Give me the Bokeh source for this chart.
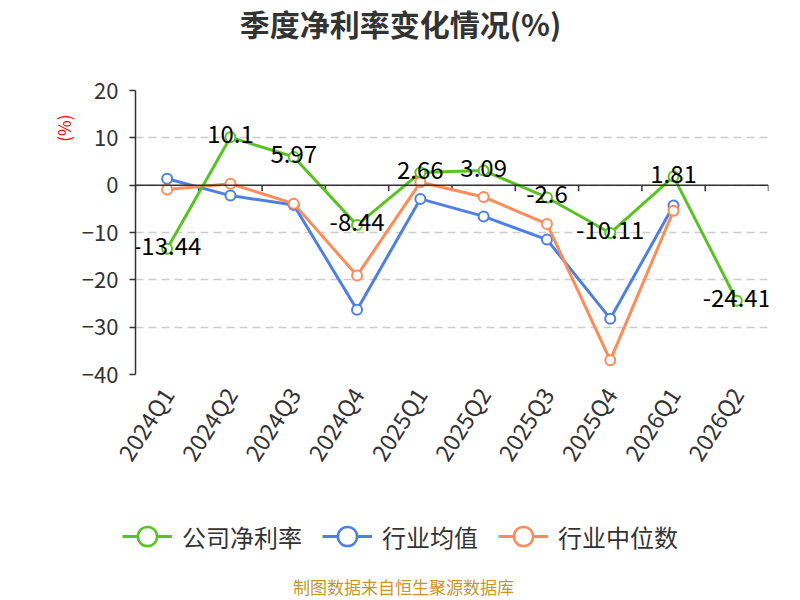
import math
from bokeh.plotting import figure
from bokeh.layouts import column
from bokeh.models import Span, Legend, LegendItem, FixedTicker, Title, Label
from bokeh.core.properties import value
from bokeh.embed import file_html
from bokeh.resources import INLINE

# ---- data ----
quarters = ["2024Q1", "2024Q2", "2024Q3", "2024Q4", "2025Q1",
            "2025Q2", "2025Q3", "2025Q4", "2026Q1", "2026Q2"]
company = [-13.44, 10.1, 5.97, -8.44, 2.66, 3.09, -2.6, -10.11, 1.81, -24.41]
ind_mean = [1.35, -2.2, -4.2, -26.3, -2.9, -6.6, -11.5, -28.2, -4.3, float("nan")]
ind_median = [-0.9, 0.3, -3.9, -19.1, 0.6, -2.5, -8.2, -37.0, -5.4, float("nan")]
y_ticks = [-40, -30, -20, -10, 0, 10, 20]
series_names = ["公司净利率", "行业均值", "行业中位数"]
title_text = "季度净利率变化情况(%)"
unit_text = "(%)"
footer_text = "制图数据来自恒生聚源数据库"

FONT = "Noto Sans CJK SC"
GREEN = "#58c322"
BLUE = "#4f80e1"
ORANGE = "#fc8c5a"
NAN = float("nan")

xs = list(range(len(quarters)))
bounds = [i - 0.5 for i in range(len(quarters) + 1)]


def strip(height):
    s = figure(width=800, height=height, x_range=(0, 1), y_range=(0, 1),
               output_backend="svg", toolbar_location=None, min_border=0)
    if "frame_align" in s.properties():
        s.frame_align = False
    s.outline_line_color = None
    s.axis.visible = False
    s.grid.visible = False
    return s


# ---- title strip ----
ptop = strip(45)
ptop.add_layout(Label(x=400, y=23, x_units="screen", y_units="screen", text=title_text,
                      text_align="center", text_baseline="middle", text_font_size="30px",
                      text_font_style="bold", text_color="#333333", text_font=FONT))

# ---- main chart ----
p = figure(width=800, height=465, x_range=(-0.5, len(quarters) - 0.5),
           y_range=(y_ticks[0], y_ticks[-1]), output_backend="svg",
           toolbar_location=None, title=None,
           min_border_left=135, min_border_right=32,
           min_border_top=45, min_border_bottom=136)
p.outline_line_color = None
p.background_fill_color = "white"
p.border_fill_color = "white"

p.xgrid.visible = False
p.ygrid.ticker = FixedTicker(ticks=y_ticks)
p.ygrid.grid_line_color = "#cccccc"
p.ygrid.grid_line_dash = "8 5"
p.ygrid.grid_line_width = 1.5

p.yaxis.ticker = FixedTicker(ticks=y_ticks)
p.yaxis.axis_line_color = "#333333"
p.yaxis.axis_line_width = 1.5
p.yaxis.major_tick_line_color = "#333333"
p.yaxis.major_tick_line_width = 1.5
p.yaxis.major_tick_out = 6
p.yaxis.major_tick_in = 0
p.yaxis.minor_tick_line_color = None
p.yaxis.major_label_text_font_size = "22px"
p.yaxis.major_label_text_color = "#333333"
p.yaxis.major_label_text_font = FONT
p.yaxis.major_label_standoff = 11

p.xaxis.ticker = FixedTicker(ticks=xs)
p.xaxis.major_label_overrides = {i: q for i, q in zip(xs, quarters)}
p.xaxis.axis_line_color = None
p.xaxis.major_tick_line_color = None
p.xaxis.minor_tick_line_color = None
p.xaxis.major_label_orientation = 1.0
p.xaxis.major_label_text_font_size = "23px"
p.xaxis.major_label_text_color = "#333333"
p.xaxis.major_label_text_font = FONT
p.xaxis.major_label_standoff = 9

# zero axis line with category-boundary ticks
p.add_layout(Span(location=0, dimension="width", line_color="#333333", line_width=1.5))
tick_len = 1.3
p.segment(x0=bounds, y0=[0] * len(bounds), x1=bounds, y1=[-tick_len] * len(bounds),
          line_color="#333333", line_width=1.5)

colors = {series_names[0]: GREEN, series_names[1]: BLUE, series_names[2]: ORANGE}
for name, vals in [(series_names[1], ind_mean),
                   (series_names[2], ind_median),
                   (series_names[0], company)]:
    col = colors[name]
    p.line(xs, vals, line_color=col, line_width=3)
    p.scatter(xs, vals, size=10, marker="circle", fill_color="white",
              line_color=col, line_width=2)

p.text(x=xs, y=company, text=[str(v) for v in company], text_align="center",
       text_baseline="middle", text_font_size="24px", text_color="black",
       y_offset=-3, text_font=value(FONT))

# unit label (left)
p.add_layout(Title(text=unit_text, align="right", offset=24, standoff=6,
                   text_font_size="17px", text_font_style="normal",
                   text_color="red", text_font=FONT), "left")

# ---- legend + footer strip ----
p2 = strip(90)
items = []
for name in series_names:
    col = colors[name]
    lr = p2.line([NAN], [NAN], line_color=col, line_width=3)
    sr = p2.scatter([NAN], [NAN], size=22, marker="circle", fill_color="white",
                    line_color=col, line_width=2.5)
    items.append(LegendItem(label=name, renderers=[lr, sr]))

legend = Legend(items=items, location=(122, 40), orientation="horizontal",
                glyph_width=50, glyph_height=48, label_standoff=10, spacing=20,
                padding=0, margin=0, border_line_color=None,
                background_fill_alpha=0, label_text_font_size="24px",
                label_text_color="#333333", label_text_font=FONT)
p2.add_layout(legend)
p2.add_layout(Label(x=403, y=14, x_units="screen", y_units="screen", text=footer_text,
                    text_align="center", text_baseline="middle", text_font_size="17px",
                    text_color="#c8952a", text_font=FONT))

open("out.html", "w").write(file_html(column(ptop, p, p2), INLINE))
